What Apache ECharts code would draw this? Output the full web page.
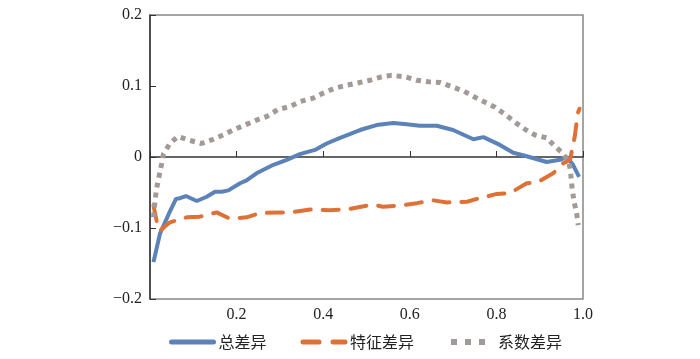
<!DOCTYPE html>
<html>
<head>
<meta charset="utf-8">
<script src="https://cdn.jsdelivr.net/npm/echarts@6/dist/echarts.min.js"></script>
<style>
  html, body { margin: 0; padding: 0; background: #fff; }
  #main { width: 700px; height: 359px; }
</style>
</head>
<body>
<div id="main"></div>
<script>
var seriesNames = ['总差异', '特征差异', '系数差异'];

var totalX = [0.008, 0.023, 0.042, 0.06, 0.069, 0.083, 0.108, 0.131, 0.15, 0.166, 0.181, 0.208, 0.223, 0.246, 0.285, 0.316, 0.346, 0.381, 0.408, 0.439, 0.485, 0.523, 0.562, 0.593, 0.623, 0.662, 0.70, 0.747, 0.77, 0.808, 0.839, 0.87, 0.916, 0.947, 0.962, 0.977, 0.991];
var totalY = [-0.148, -0.108, -0.082, -0.059, -0.058, -0.055, -0.062, -0.056, -0.049, -0.049, -0.047, -0.037, -0.033, -0.023, -0.011, -0.004, 0.004, 0.01, 0.019, 0.027, 0.038, 0.045, 0.048, 0.046, 0.044, 0.044, 0.038, 0.025, 0.028, 0.017, 0.006, 0.001, -0.007, -0.004, 0.0, -0.011, -0.028];

var featX = [0.008, 0.012, 0.017, 0.023, 0.046, 0.085, 0.115, 0.154, 0.185, 0.223, 0.254, 0.30, 0.323, 0.37, 0.416, 0.462, 0.515, 0.538, 0.584, 0.616, 0.654, 0.686, 0.732, 0.755, 0.801, 0.831, 0.87, 0.894, 0.931, 0.954, 0.97, 0.981, 0.988, 0.992];
var featY = [-0.068, -0.08, -0.095, -0.104, -0.092, -0.085, -0.084, -0.078, -0.087, -0.085, -0.079, -0.078, -0.078, -0.074, -0.075, -0.073, -0.067, -0.07, -0.068, -0.065, -0.061, -0.064, -0.063, -0.059, -0.052, -0.051, -0.037, -0.036, -0.023, -0.009, -0.004, 0.029, 0.062, 0.068];

var coefX = [0.008, 0.012, 0.015, 0.019, 0.027, 0.031, 0.046, 0.065, 0.088, 0.119, 0.142, 0.169, 0.192, 0.219, 0.246, 0.269, 0.296, 0.323, 0.346, 0.377, 0.40, 0.427, 0.454, 0.477, 0.508, 0.535, 0.558, 0.589, 0.616, 0.643, 0.67, 0.697, 0.724, 0.751, 0.774, 0.797, 0.82, 0.843, 0.866, 0.889, 0.916, 0.935, 0.954, 0.968, 0.971, 0.975, 0.98, 0.985, 0.989];
var coefY = [-0.085, -0.06, -0.045, -0.033, -0.009, 0.004, 0.019, 0.029, 0.024, 0.019, 0.024, 0.031, 0.038, 0.045, 0.052, 0.057, 0.067, 0.071, 0.078, 0.083, 0.09, 0.097, 0.101, 0.104, 0.108, 0.113, 0.115, 0.113, 0.108, 0.106, 0.105, 0.099, 0.093, 0.084, 0.077, 0.07, 0.06, 0.049, 0.039, 0.031, 0.027, 0.015, 0.005, -0.009, -0.02, -0.045, -0.065, -0.078, -0.096];

function pairs(xs, ys) {
    var list = [];
    for (var i = 0; i < xs.length; i++) {
        list.push([xs[i], ys[i]]);
    }
    return list;
}

var chartDom = document.getElementById('main');
var myChart = echarts.init(chartDom);
var labelFont = 'Liberation Serif';

var option = {
    animation: false,
    grid: {
        left: 150,
        right: 117,
        top: 15,
        bottom: 60,
        show: true,
        borderColor: '#888',
        borderWidth: 1.5
    },
    legend: {
        left: 164,
        top: 329,
        itemWidth: 42,
        itemHeight: 14,
        itemGap: 34,
        itemStyle: { opacity: 0 },
        textStyle: { fontFamily: 'Noto Sans CJK SC', fontSize: 16, color: '#222' },
        data: [
            { name: seriesNames[0], lineStyle: { width: 5, cap: 'round' } },
            { name: seriesNames[1], lineStyle: { width: 5, type: [16, 14], cap: 'round' } },
            { name: seriesNames[2], lineStyle: { width: 6, type: [6, 8] } }
        ]
    },
    xAxis: {
        type: 'value',
        min: 0,
        max: 1,
        interval: 0.2,
        axisLine: { lineStyle: { color: '#333', width: 1.5 } },
        axisTick: { inside: true, length: 6, lineStyle: { color: '#333' } },
        splitLine: { show: false },
        axisLabel: {
            fontFamily: labelFont,
            fontSize: 16,
            color: '#222',
            margin: 8,
            formatter: function (v) {
                if (v === 0) return '';
                return v.toFixed(1);
            }
        }
    },
    yAxis: {
        type: 'value',
        min: -0.2,
        max: 0.2,
        interval: 0.1,
        axisLine: { show: true, lineStyle: { color: '#333', width: 1.5 } },
        axisTick: { show: true, inside: true, length: 6, lineStyle: { color: '#333' } },
        splitLine: { show: false },
        axisLabel: {
            fontFamily: labelFont,
            fontSize: 16,
            color: '#222',
            margin: 8,
            formatter: function (v) {
                var r = Math.round(v * 10) / 10;
                if (r === 0) return '0';
                return (r < 0 ? '\u2212' : '') + Math.abs(r).toFixed(1);
            }
        }
    },
    series: [{
        name: seriesNames[0],
        type: 'line',
        data: pairs(totalX, totalY),
        showSymbol: false,
        symbol: 'none',
        itemStyle: { color: '#5b82b9' },
        lineStyle: { color: '#5b82b9', width: 4 }
    },
    {
        name: seriesNames[1],
        type: 'line',
        data: pairs(featX, featY),
        showSymbol: false,
        symbol: 'none',
        itemStyle: { color: '#e07136' },
        lineStyle: { color: '#e07136', width: 4, type: [16, 12], cap: 'round' }
    },
    {
        name: seriesNames[2],
        type: 'line',
        data: pairs(coefX, coefY),
        showSymbol: false,
        symbol: 'none',
        itemStyle: { color: '#a29a96' },
        lineStyle: { color: '#a29a96', width: 5, type: [5, 5] }
    }]
};

myChart.setOption(option);
</script>
</body>
</html>
